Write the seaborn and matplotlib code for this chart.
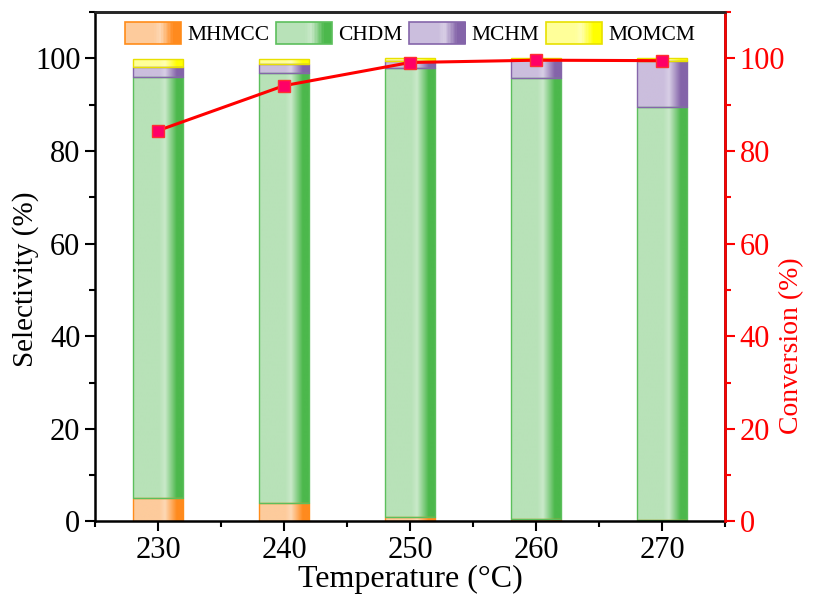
import numpy as np
import pandas as pd
import seaborn as sns
import matplotlib.pyplot as plt
from matplotlib.colors import LinearSegmentedColormap, to_rgb
from matplotlib.legend_handler import HandlerBase
from matplotlib.patches import Rectangle, Patch
from matplotlib.ticker import MultipleLocator

# data
temps = ['230', '240', '250', '260', '270']
mhmcc = [5.1, 4.0, 0.9, 0.5, 0.4]
chdm = [90.8, 92.9, 97.1, 95.2, 89.2]
mchm = [2.2, 1.9, 1.5, 3.9, 9.9]
momcm = [1.7, 1.0, 0.5, 0.4, 0.5]
conversion = [84.4, 94.1, 99.1, 99.6, 99.5]

series_names = ['MHMCC', 'CHDM', 'MCHM', 'MOMCM']
series_vals = [mhmcc, chdm, mchm, momcm]
# light, dark, edge
series_colors = [('#FDCB9C', '#FF8A1E', '#FF8C1A'),
                 ('#B8E2B8', '#4CB84C', '#5CBF5C'),
                 ('#CBBEDD', '#8464A9', '#8566AA'),
                 ('#FFFF99', '#FFFF00', '#E8E000')]

sns.set_style('ticks')
plt.rcParams['font.family'] = ['Liberation Serif', 'DejaVu Serif']
plt.rcParams.update({'text.color': 'black', 'axes.labelcolor': 'black',
                     'xtick.color': 'black', 'ytick.color': 'black'})


def grad_cmap(light, dark):
    l = np.array(to_rgb(light))
    hi = l + (1 - l) * 0.25
    return LinearSegmentedColormap.from_list(
        'g', [(0, l), (0.52, l), (0.63, hi), (0.86, to_rgb(dark)), (1, to_rgb(dark))])


class GradHandler(HandlerBase):
    def __init__(self, cmap, edge):
        super().__init__()
        self.cmap = cmap
        self.edge = edge

    def create_artists(self, legend, orig_handle, xdescent, ydescent, width, height, fontsize, trans):
        arts = []
        n = 40
        for i in range(n):
            r = Rectangle((-xdescent + width * i / n, -ydescent), width / n + 0.3, height,
                          facecolor=self.cmap((i + 0.5) / n), edgecolor='none', transform=trans)
            arts.append(r)
        arts.append(Rectangle((-xdescent, -ydescent), width, height, facecolor='none',
                              edgecolor=self.edge, lw=1.2, transform=trans))
        return arts


fig = plt.figure(figsize=(8.15, 6.01), dpi=100)
ax = fig.add_axes([0.1166, 0.1323, 0.7730, 0.8477])

bottom = np.zeros(len(temps))
bar_groups = []
for name, vals, (light, dark, edge) in zip(series_names, series_vals, series_colors):
    n_before = len(ax.patches)
    sns.barplot(x=temps, y=vals, bottom=bottom.copy(), color=light, edgecolor=edge,
                linewidth=1.0, width=0.4, errorbar=None, saturation=1, ax=ax)
    bar_groups.append((ax.patches[n_before:], grad_cmap(light, dark)))
    bottom = bottom + np.array(vals)

# gradient fill inside each bar
grad = np.linspace(0, 1, 256).reshape(1, -1)
for patches, cmap in bar_groups:
    for p in patches:
        x0, y0 = p.get_x(), p.get_y()
        w, h = p.get_width(), p.get_height()
        ax.imshow(grad, cmap=cmap, extent=[x0, x0 + w, y0, y0 + h], aspect='auto',
                  interpolation='bilinear', zorder=p.get_zorder())
        p.set_facecolor('none')
        p.set_zorder(p.get_zorder() + 0.1)

ax.set_xlim(-0.5, 4.5)
ax.set_ylim(0, 110)
ax.yaxis.set_major_locator(MultipleLocator(20))
ax.yaxis.set_minor_locator(MultipleLocator(10))
ax.xaxis.set_minor_locator(plt.FixedLocator(np.arange(-0.5, 4.6, 1)))
ax.tick_params(axis='both', which='major', direction='out', length=7, width=1.5,
               labelsize=22, colors='black')
ax.tick_params(axis='both', which='minor', direction='out', length=4, width=1.5)
ax.set_xlabel('Temperature (°C)', fontsize=23, labelpad=0)
ax.set_ylabel('Selectivity (%)', fontsize=21, labelpad=-3)
ax.yaxis.label.set_y(0.475)
for s in ax.spines.values():
    s.set_linewidth(1.8)
    s.set_color('black')

# conversion line on the right axis
ax2 = ax.twinx()
sns.lineplot(x=np.arange(len(temps)), y=conversion, ax=ax2, color='red', lw=2.2,
             marker='s', markersize=8, markerfacecolor='#FF0066', markeredgecolor='#FF3030',
             markeredgewidth=1.0)
ax2.set_ylim(0, 110)
ax2.set_xlim(-0.5, 4.5)
ax2.yaxis.set_major_locator(MultipleLocator(20))
ax2.yaxis.set_minor_locator(MultipleLocator(10))
ax2.tick_params(axis='y', which='major', direction='out', length=7, width=1.5,
                labelsize=22, colors='red')
ax2.tick_params(axis='y', which='minor', direction='out', length=4, width=1.5, colors='red')
ax2.set_ylabel('Conversion (%)', fontsize=20, color='red', labelpad=-4)
ax2.yaxis.label.set_y(0.345)
ax2.spines['right'].set_color('red')
ax2.spines['right'].set_linewidth(1.8)
ax2.spines['top'].set_linewidth(1.8)
ax2.spines['left'].set_visible(False)
ax2.spines['bottom'].set_visible(False)

handles = [Patch(label=n) for n in series_names]
hmap = {h: GradHandler(grad_cmap(c[0], c[1]), c[2]) for h, c in zip(handles, series_colors)}
ax.legend(handles=handles, handler_map=hmap, loc='upper center', ncol=4, frameon=False,
          fontsize=15.5, handlelength=2.6, handleheight=1.25, handletextpad=0.3,
          columnspacing=0.3, borderaxespad=0.05, bbox_to_anchor=(0.5, 1.0))

fig.savefig('out.png', dpi=100)
